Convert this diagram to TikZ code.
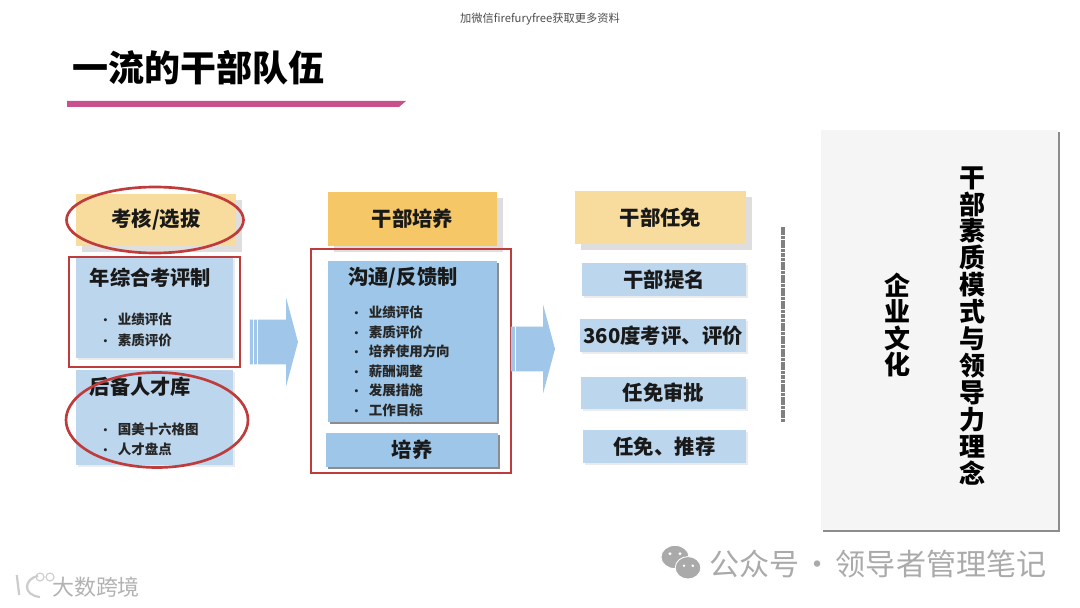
\documentclass[tikz,border=0pt]{standalone}
\usepackage{fontspec}
\setmainfont{Noto Sans CJK SC}
\newfontfamily\titlefont{Noto Sans CJK SC Black}
\usepackage{xcolor}
\definecolor{cdblue}{RGB}{188,214,238}
\definecolor{cdmid}{RGB}{157,198,232}
\definecolor{cdarrow}{RGB}{160,198,234}
\definecolor{cdgold}{RGB}{245,199,103}
\definecolor{cdpale}{RGB}{248,220,158}
\definecolor{cdred}{RGB}{190,60,60}
\definecolor{cdpink}{RGB}{200,80,140}
\definecolor{cdpanel}{RGB}{245,245,245}
\definecolor{cdgray}{RGB}{170,170,170}
\usetikzlibrary{positioning,shapes.geometric,shapes.arrows,shadows}
\newcommand{\itemdot}{\makebox[10.3pt][l]{\hspace{-2.5pt}\footnotesize •}}
\tikzset{
  softbox/.style={fill=#1, draw=none, inner sep=0pt, text=black!90, font=\fontsize{14.5}{17}\selectfont\bfseries, drop shadow={shadow xshift=0.05cm, shadow yshift=-0.05cm, fill=black!8, opacity=1}},
  headbox/.style={fill=#1, draw=none, inner sep=0pt, text=black!90, font=\fontsize{14.5}{17}\selectfont\bfseries, drop shadow={shadow xshift=0.16cm, shadow yshift=-0.15cm, fill=black!13, opacity=1}},
  hardbox/.style={fill=#1, draw=none, inner sep=0pt, text=black!90, font=\fontsize{14.5}{17}\selectfont\bfseries, drop shadow={shadow xshift=0.05cm, shadow yshift=-0.06cm, fill=black!45, opacity=1}},
  redframe/.style={draw=cdred, line width=1.9pt, inner sep=0pt},
  blockarrow/.style={single arrow, fill=cdarrow, draw=none, inner xsep=0pt, inner ysep=0.55cm, single arrow tip angle=150, single arrow head extend=0.55cm, single arrow head indent=0pt}
}
\begin{document}
\begin{tikzpicture}
  \useasboundingbox (0,0) rectangle (27,15.175);
  % header
  \node[font=\fontsize{8}{9}\selectfont, text=black!70] (wm) at (13.5,14.7) {加微信firefuryfree获取更多资料};
  \node[font=\fontsize{25.6}{30}\selectfont\titlefont, text=black, anchor=west, inner sep=0pt] (title) at (1.8,13.475) {一流的干部队伍};
  \fill[cdpink] (1.675,12.65) -- (10.15,12.65) -- (9.975,12.5) -- (1.675,12.5) -- cycle;

  % left column
  \node[headbox=cdpale, minimum width=4cm, minimum height=1.3cm] (kh) at (3.9,9.675) {考核/选拔};
  \node[softbox=cdblue, minimum width=3.925cm, minimum height=2.525cm] (nz) at (3.8625,7.4875) {};
  \node[softbox=cdblue, minimum width=3.925cm, minimum height=2.375cm] (hb) at (3.8625,4.7375) {};
  \node[font=\fontsize{14.4}{17}\selectfont\bfseries, text=black!90, inner sep=0pt] (nzt) at (3.7625,8.225) {年综合考评制};
  \node[font=\fontsize{14.4}{17}\selectfont\bfseries, text=black!90, inner sep=0pt] (hbt) at (3.5125,5.5) {后备人才库};
  \node[font=\fontsize{9.6}{14.6}\selectfont\bfseries, text=black!85, align=left, anchor=west, inner sep=0pt] (nzl) at (2.575,6.925) {\itemdot 业绩评估\\\itemdot 素质评价};
  \node[font=\fontsize{9.6}{14.6}\selectfont\bfseries, text=black!85, align=left, anchor=west, inner sep=0pt] (hbl) at (2.575,4.1875) {\itemdot 国美十六格图\\\itemdot 人才盘点};
  \node[redframe, minimum width=4.275cm, minimum height=2.75cm] (nzr) at (3.8625,7.375) {};
  \node[redframe, ellipse, minimum width=4.425cm, minimum height=1.65cm] (khr) at (3.875,9.675) {};
  \node[redframe, ellipse, minimum width=4.55cm, minimum height=2.375cm] (hbr) at (3.925,4.675) {};

  % middle column
  \node[headbox=cdgold, minimum width=4.225cm, minimum height=1.35cm] (gp) at (10.3125,9.7) {干部培养};
  \node[hardbox=cdmid, minimum width=4.225cm, minimum height=4.025cm] (gt) at (10.3125,6.6375) {};
  \node[hardbox=cdmid, minimum width=4.3cm, minimum height=0.85cm] (py) at (10.3,3.925) {培养};
  \node[font=\fontsize{14.4}{17}\selectfont\bfseries, text=black!90, inner sep=0pt] (gtt) at (10.075,8.225) {沟通/反馈制};
  \node[font=\fontsize{9.6}{13.9}\selectfont\bfseries, text=black!85, align=left, anchor=west, inner sep=0pt] (gtl) at (8.85,6.1375) {\itemdot 业绩评估\\\itemdot 素质评价\\\itemdot 培养使用方向\\\itemdot 薪酬调整\\\itemdot 发展措施\\\itemdot 工作目标};
  \node[redframe, minimum width=5cm, minimum height=5.6cm] (gpr) at (10.275,6.15) {};

  % right column
  \node[headbox=cdpale, minimum width=4.275cm, minimum height=1.325cm] (rm) at (16.5125,9.7375) {干部任免};
  \node[softbox=cdblue, minimum width=4.1cm, minimum height=0.825cm] (tm) at (16.6,8.1875) {干部提名};
  \node[softbox=cdblue, minimum width=4.15cm, minimum height=0.825cm] (kp) at (16.575,6.7875) {360度考评、评价};
  \node[softbox=cdblue, minimum width=4.125cm, minimum height=0.8cm] (sp) at (16.5875,5.35) {任免审批};
  \node[softbox=cdblue, minimum width=4.075cm, minimum height=0.825cm] (tj) at (16.6125,4.0125) {任免、推荐};

  % block arrows
  \node[blockarrow, minimum height=1.2cm, minimum width=2.2cm] (fa) at (6.775,6.625) {};
  \node[blockarrow, minimum height=1.1cm, minimum width=2.2cm] (fb) at (13.25,6.45) {};
  \draw[white, line width=0.6pt] (6.34,7.2) -- (6.34,6.05);
  \draw[white, line width=0.6pt] (6.43,7.2) -- (6.43,6.05);
  \draw[white, line width=0.6pt] (12.875,7) -- (12.875,5.9);

  % divider
  \coordinate (dtop) at (19.575,9.5);
  \coordinate (dbot) at (19.575,4.625);
  \draw[black!50, line width=2.2pt, dash pattern=on 2.6pt off 0.5pt] (dtop) -- (dbot);

  % panel
  \node[hardbox=cdpanel, minimum width=5.925cm, minimum height=10cm] (panel) at (23.4875,6.925) {};
  \node[font=\fontsize{18.5}{18.9}\selectfont\bfseries, align=center, text=black, inner sep=0pt] (qy) at (22.425,7.05) {企\\业\\文\\化};
  \node[font=\fontsize{18.5}{19.2}\selectfont\bfseries, align=center, text=black, inner sep=0pt] (sz) at (24.3,7.025) {干\\部\\素\\质\\模\\式\\与\\领\\导\\力\\理\\念};

  % marks at the bottom
  \fill[cdgray, draw=white, line width=0.6pt] (16.875,1.25) ellipse (0.35 and 0.29);
  \fill[cdgray, draw=white, line width=0.6pt] (17.2,0.98) ellipse (0.32 and 0.28);
  \fill[white] (16.75,1.33) circle (0.04) (17,1.33) circle (0.04) (17.1,1.03) circle (0.035) (17.32,1.03) circle (0.035);
  \node[font=\fontsize{21.4}{25}\selectfont, text=cdgray, inner sep=0pt] (gz) at (21.95,1.075) {公众号\hspace{0.1em}·\hspace{0.1em}领导者管理笔记};
  \draw[black!20, line width=1.6pt] (0.42,0.8) -- (0.48,0.3) (0.95,0.78) .. controls (0.6,0.7) and (0.55,0.3) .. (1,0.25);
  \draw[black!20, line width=0.8pt] (1.0,0.75) circle (0.1) (1.25,0.75) circle (0.1);
  \node[font=\fontsize{15.6}{18}\selectfont, text=black!30, inner sep=0pt] (dk) at (2.4,0.5) {大数跨境};
\end{tikzpicture}
\end{document}
